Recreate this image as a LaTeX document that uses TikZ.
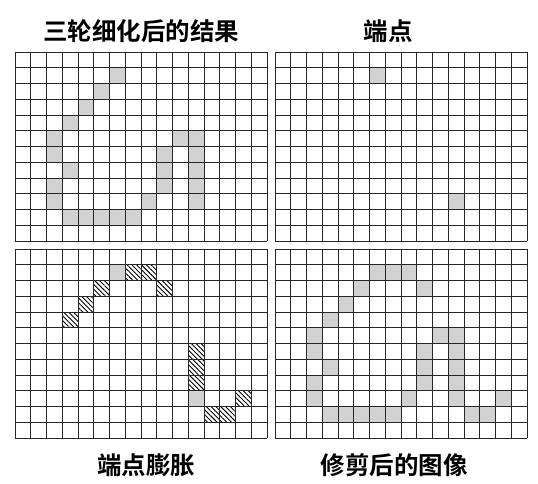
\documentclass[tikz,border=0pt]{standalone}
\usepackage{fontspec}
\newfontfamily\cjk{Noto Sans CJK SC}[BoldFont={Noto Sans CJK SC Bold}]
\usetikzlibrary{patterns.meta}
\definecolor{cellgray}{RGB}{210,210,210}
\tikzset{
  gridline/.style={draw=black!85,line width=0.9pt},
  grayfill/.style={fill=cellgray},
  hatchfill/.style={pattern={Lines[angle=-45,distance=3.4pt,line width=0.9pt]},pattern color=black},
  titletext/.style={font=\cjk\bfseries\fontsize{24.5pt}{26pt}\selectfont,inner sep=0pt,text=black}
}
\newcommand\mygrid[2]{%
  \foreach \i in {0,...,16} \draw[gridline] ({#1+\i*15.75},#2) -- ++(0,189);
  \foreach \j in {0,...,12} \draw[gridline] (#1,{#2+\j*15.75}) -- ++(252,0);
}
\newcommand\mycells[4]{%
  \foreach \c/\r in {#4} \path[#3] ({#1+\c*15.75},{#2+\r*15.75}) rectangle ++(15.75,15.75);
}
\begin{document}
\begin{tikzpicture}[x=1pt,y=-1pt]
\useasboundingbox (0,0) rectangle (538,484);
\fill[white] (0,0) rectangle (538,484);
% grid 1: skeleton after three thinning passes
\mycells{15}{52}{grayfill}{6/1,5/2,4/3,3/4,2/5,10/5,11/5,2/6,9/6,11/6,3/7,9/7,11/7,2/8,9/8,11/8,2/9,8/9,11/9,3/10,4/10,5/10,6/10,7/10}
\mygrid{15}{52}
% grid 2: end points
\mycells{275}{52}{grayfill}{6/1,11/9}
\mygrid{275}{52}
% grid 3: dilated end points
\mycells{15}{249}{grayfill}{6/1,11/9}
\mycells{15}{249}{hatchfill}{7/1,8/1,5/2,9/2,4/3,3/4,11/6,11/7,11/8,14/9,12/10,13/10}
\mygrid{15}{249}
% grid 4: pruned image
\mycells{275}{249}{grayfill}{6/1,7/1,8/1,5/2,9/2,4/3,3/4,2/5,10/5,11/5,2/6,9/6,11/6,3/7,9/7,11/7,2/8,9/8,11/8,2/9,8/9,11/9,14/9,3/10,4/10,5/10,6/10,7/10,12/10,13/10}
\mygrid{275}{249}
% titles
\node[titletext] (t1) at (141,31) {三轮细化后的结果};
\node[titletext] (t2) at (388,31) {端点};
\node[titletext] (t3) at (146,465) {端点膨胀};
\node[titletext] (t4) at (394,465) {修剪后的图像};
\end{tikzpicture}
\end{document}
